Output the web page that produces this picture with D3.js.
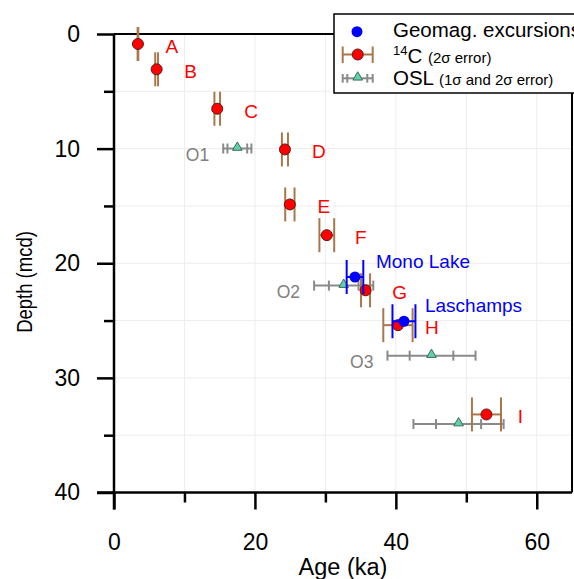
<!DOCTYPE html>
<html>
<head>
<meta charset="utf-8">
<script src="https://cdn.jsdelivr.net/npm/d3@7"></script>
<style>
  body { margin: 0; background: #fff; }
  svg { display: block; font-family: Arial, "Liberation Sans", sans-serif; }
</style>
</head>
<body>
<div class="box"></div>
<script>
// 14C dates (age in ka, depth in mcd, 2 sigma error in ka)
const c14Names = ["A", "B", "C", "D", "E", "F", "G", "H", "I"];
const c14Age = [3.4, 6.05, 14.65, 24.26, 24.96, 30.2, 35.7, 40.3, 52.86];
const c14Depth = [0.87, 3.08, 6.52, 10.07, 14.87, 17.55, 22.36, 25.4, 33.19];
const c14Err = [0.05, 0.2, 0.4, 0.43, 0.66, 1.05, 0.64, 2.08, 2.06];

// geomagnetic excursions
const geoNames = ["Mono Lake", "Laschamps"];
const geoAge = [34.2, 41.15];
const geoDepth = [21.2, 25.06];
const geoErr = [1.18, 1.63];

// OSL dates (1 and 2 sigma errors)
const oslNames = ["O1", "O2", "O3", ""];
const oslAge = [17.5, 32.6, 45.06, 48.9];
const oslDepth = [9.99, 21.95, 28.06, 34.03];
const osl1s = [1.4, 2.1, 3.1, 3.2];
const osl2s = [2.0, 4.2, 6.25, 6.4];

// axis ticks
const xMajor = [0, 20, 40, 60];
const xMinor = [10, 30, 50];
const yMajor = [0, 10, 20, 30, 40];
const yMinor = [5, 15, 25, 35];
const xGrid = [10, 20, 30, 40, 50, 60];
const yGrid = [5, 10, 15, 20, 25, 30, 35];

const w = 574, h = 579;
const pLeft = 114, pRight = 572, pTop = 34, pBottom = 492.5;

const brown = "#a8774b";
const grey = "#8a8a8a";

const xScale = d3.scaleLinear().domain([0, 65]).range([pLeft, pRight]);
const yScale = d3.scaleLinear().domain([0, 40]).range([pTop, pBottom]);

const svg = d3.select(".box").append("svg")
    .attr("width", w)
    .attr("height", h);

// grid
svg.append("g").selectAll("line").data(xGrid).enter().append("line")
    .attr("x1", d => xScale(d)).attr("x2", d => xScale(d))
    .attr("y1", pTop).attr("y2", pBottom)
    .style("stroke", "#ededed").style("stroke-width", 1);
svg.append("g").selectAll("line").data(yGrid).enter().append("line")
    .attr("x1", pLeft).attr("x2", pRight)
    .attr("y1", d => yScale(d)).attr("y2", d => yScale(d))
    .style("stroke", "#ededed").style("stroke-width", 1);

// frame (top and right)
svg.append("path")
    .attr("d", `M${pLeft},${pTop}H${pRight}V${pBottom}`)
    .style("fill", "none").style("stroke", "#000").style("stroke-width", 2);

// axes
const xAxis = svg.append("g").attr("transform", "translate(0," + pBottom + ")");
xAxis.call(d3.axisBottom(xScale).tickValues(xMajor).tickSize(17).tickPadding(24));
const xAxisMinor = svg.append("g").attr("transform", "translate(0," + pBottom + ")");
xAxisMinor.call(d3.axisBottom(xScale).tickValues(xMinor).tickSize(10).tickFormat(""));

const yAxis = svg.append("g").attr("transform", "translate(" + pLeft + ",0)");
yAxis.call(d3.axisLeft(yScale).tickValues(yMajor).tickSize(17).tickPadding(17));
const yAxisMinor = svg.append("g").attr("transform", "translate(" + pLeft + ",0)");
yAxisMinor.call(d3.axisLeft(yScale).tickValues(yMinor).tickSize(10).tickFormat(""));

[xAxis, xAxisMinor, yAxis, yAxisMinor].forEach(a => {
    a.selectAll(".domain").remove();
    a.selectAll("line").style("stroke", "#000").style("stroke-width", 2.5);
    a.selectAll("text").style("font-size", "23px").style("fill", "#000")
        .style("font-family", "Arial, 'Liberation Sans', sans-serif");
});
// axis lines running past the plot corner
svg.append("line").attr("x1", pLeft - 17).attr("x2", pRight)
    .attr("y1", pBottom).attr("y2", pBottom)
    .style("stroke", "#000").style("stroke-width", 2.5);
svg.append("line").attr("x1", pLeft).attr("x2", pLeft)
    .attr("y1", pTop).attr("y2", pBottom + 17)
    .style("stroke", "#000").style("stroke-width", 2.5);

// axis titles
svg.append("text")
    .attr("x", (pLeft + pRight) / 2).attr("y", 575)
    .attr("text-anchor", "middle")
    .style("font-size", "23.5px")
    .text("Age (ka)");
svg.append("text")
    .attr("transform", "translate(32,282) rotate(-90) scale(1,1.15)")
    .attr("text-anchor", "middle")
    .style("font-size", "18.5px")
    .text("Depth (mcd)");

// OSL error bars
const osl = oslAge.map((a, i) => ({ age: a, depth: oslDepth[i], s1: osl1s[i], s2: osl2s[i], name: oslNames[i] }));
const oslG = svg.append("g").selectAll("g").data(osl).enter().append("g");
oslG.append("line")
    .attr("x1", d => xScale(d.age - d.s2)).attr("x2", d => xScale(d.age + d.s2))
    .attr("y1", d => yScale(d.depth)).attr("y2", d => yScale(d.depth))
    .style("stroke", grey).style("stroke-width", 2);
oslG.selectAll(".cap")
    .data(d => [d.age - d.s2, d.age - d.s1, d.age + d.s1, d.age + d.s2].map(v => ({ v: v, depth: d.depth })))
    .enter().append("line").attr("class", "cap")
    .attr("x1", d => xScale(d.v)).attr("x2", d => xScale(d.v))
    .attr("y1", d => yScale(d.depth) - 5).attr("y2", d => yScale(d.depth) + 5)
    .style("stroke", grey).style("stroke-width", 2);
oslG.append("path")
    .attr("transform", d => "translate(" + xScale(d.age) + "," + (yScale(d.depth) - 1) + ")")
    .attr("d", d3.symbol().type(d3.symbolTriangle).size(40))
    .style("fill", "#5fd0a8").style("stroke", "#3d6b5a").style("stroke-width", 1);
oslG.append("text")
    .attr("x", d => xScale(d.age - d.s2) - 14)
    .attr("y", d => yScale(d.depth) + 12)
    .attr("text-anchor", "end")
    .style("font-size", "17.5px").style("fill", "#808080")
    .text(d => d.name);

// 14C error bars
const c14 = c14Age.map((a, i) => ({ age: a, depth: c14Depth[i], err: c14Err[i], name: c14Names[i] }));
const cG = svg.append("g").selectAll("g").data(c14).enter().append("g");
cG.append("line")
    .attr("x1", d => xScale(d.age - d.err)).attr("x2", d => xScale(d.age + d.err))
    .attr("y1", d => yScale(d.depth)).attr("y2", d => yScale(d.depth))
    .style("stroke", brown).style("stroke-width", 2);
cG.selectAll(".cap")
    .data(d => [d.age - d.err, d.age + d.err].map(v => ({ v: v, depth: d.depth })))
    .enter().append("line").attr("class", "cap")
    .attr("x1", d => xScale(d.v)).attr("x2", d => xScale(d.v))
    .attr("y1", d => yScale(d.depth) - 17).attr("y2", d => yScale(d.depth) + 17)
    .style("stroke", brown).style("stroke-width", 2);
cG.append("circle")
    .attr("cx", d => xScale(d.age)).attr("cy", d => yScale(d.depth))
    .attr("r", 5.5)
    .style("fill", "#ff0000").style("stroke", "#5a1a1a").style("stroke-width", 1);
cG.append("text")
    .attr("x", d => xScale(d.age) + 34)
    .attr("y", d => yScale(d.depth) + 9)
    .attr("text-anchor", "middle")
    .style("font-size", "19px").style("fill", "#ff0000")
    .text(d => d.name);

// geomagnetic excursions
const geo = geoAge.map((a, i) => ({ age: a, depth: geoDepth[i], err: geoErr[i], name: geoNames[i] }));
const gG = svg.append("g").selectAll("g").data(geo).enter().append("g");
gG.append("line")
    .attr("x1", d => xScale(d.age - d.err)).attr("x2", d => xScale(d.age + d.err))
    .attr("y1", d => yScale(d.depth)).attr("y2", d => yScale(d.depth))
    .style("stroke", "#0000ff").style("stroke-width", 2);
gG.selectAll(".cap")
    .data(d => [d.age - d.err, d.age + d.err].map(v => ({ v: v, depth: d.depth })))
    .enter().append("line").attr("class", "cap")
    .attr("x1", d => xScale(d.v)).attr("x2", d => xScale(d.v))
    .attr("y1", d => yScale(d.depth) - 17).attr("y2", d => yScale(d.depth) + 17)
    .style("stroke", "#0000ff").style("stroke-width", 2);
gG.append("circle")
    .attr("cx", d => xScale(d.age)).attr("cy", d => yScale(d.depth))
    .attr("r", 5.5)
    .style("fill", "#0000ff");
gG.append("text")
    .attr("x", d => xScale(d.age) + 21)
    .attr("y", d => yScale(d.depth) - 9)
    .style("font-size", "19px").style("fill", "#0000ff")
    .text(d => d.name);

// legend
const lg = svg.append("g").attr("transform", "translate(334,14)");
lg.append("rect").attr("width", 260).attr("height", 79)
    .style("fill", "#fff").style("stroke", "#000").style("stroke-width", 1.5);
// geomag row
lg.append("circle").attr("cx", 23).attr("cy", 17.7).attr("r", 5.5).style("fill", "#0000ff");
lg.append("text").attr("x", 59).attr("y", 23.3).style("font-size", "20.5px").text("Geomag. excursions");
// 14C row
lg.append("line").attr("x1", 8.7).attr("x2", 38.7).attr("y1", 40.5).attr("y2", 40.5)
    .style("stroke", brown).style("stroke-width", 2);
[8.7, 38.7].forEach(x => lg.append("line").attr("x1", x).attr("x2", x).attr("y1", 32.5).attr("y2", 49)
    .style("stroke", brown).style("stroke-width", 2));
lg.append("circle").attr("cx", 23.7).attr("cy", 40.5).attr("r", 5.5)
    .style("fill", "#ff0000").style("stroke", "#5a1a1a").style("stroke-width", 1);
const t14 = lg.append("text").attr("x", 59).attr("y", 49.3).style("font-size", "20.5px");
t14.append("tspan").attr("dy", -8).style("font-size", "13px").text("14");
t14.append("tspan").attr("dy", 8).text("C ");
t14.append("tspan").style("font-size", "15px").text("(2\u03c3 error)");
// OSL row
lg.append("line").attr("x1", 8.7).attr("x2", 38.7).attr("y1", 64.3).attr("y2", 64.3)
    .style("stroke", grey).style("stroke-width", 2);
[8.7, 13.3, 33.3, 38.7].forEach(x => lg.append("line").attr("x1", x).attr("x2", x).attr("y1", 60).attr("y2", 68.7)
    .style("stroke", grey).style("stroke-width", 2));
lg.append("path").attr("transform", "translate(23.7,63.3)")
    .attr("d", d3.symbol().type(d3.symbolTriangle).size(40))
    .style("fill", "#5fd0a8").style("stroke", "#3d6b5a").style("stroke-width", 1);
const tO = lg.append("text").attr("x", 59).attr("y", 71).style("font-size", "20.5px");
tO.append("tspan").text("OSL ");
tO.append("tspan").style("font-size", "15px").text("(1\u03c3 and 2\u03c3 error)");
</script>
</body>
</html>
